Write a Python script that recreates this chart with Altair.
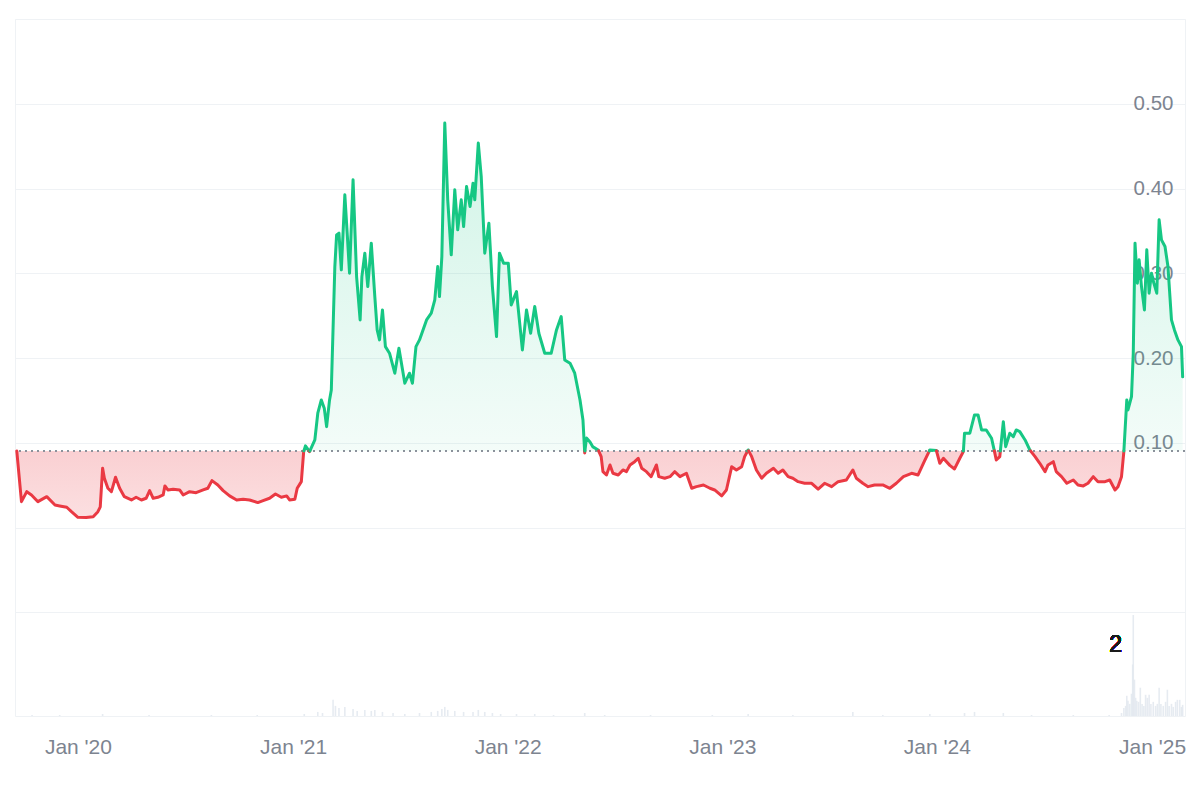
import altair as alt
import pandas as pd
import numpy as np

# ---------------- data ----------------
dates = [
    "2019-09-19", "2019-09-27", "2019-10-06", "2019-10-14", "2019-10-25", "2019-11-09", "2019-11-23",
    "2019-12-01", "2019-12-13", "2019-12-21", "2020-01-01", "2020-01-15", "2020-01-27", "2020-02-04",
    "2020-02-08", "2020-02-12", "2020-02-15", "2020-02-21", "2020-02-27", "2020-03-05", "2020-03-12",
    "2020-03-20", "2020-04-01", "2020-04-09", "2020-04-18", "2020-04-26", "2020-05-02", "2020-05-08",
    "2020-05-16", "2020-05-25", "2020-05-28", "2020-06-02", "2020-06-11", "2020-06-22", "2020-06-28",
    "2020-07-09", "2020-07-20", "2020-08-01", "2020-08-09", "2020-08-16", "2020-08-26", "2020-09-04",
    "2020-09-15", "2020-09-27", "2020-10-08", "2020-10-19", "2020-11-02", "2020-11-11", "2020-11-22",
    "2020-12-02", "2020-12-12", "2020-12-21", "2020-12-26", "2021-01-04", "2021-01-08", "2021-01-15",
    "2021-01-19", "2021-01-22", "2021-01-29", "2021-02-07", "2021-02-12", "2021-02-18", "2021-02-23",
    "2021-02-27", "2021-03-04", "2021-03-07", "2021-03-13", "2021-03-16", "2021-03-20", "2021-03-24",
    "2021-03-30", "2021-04-03", "2021-04-07", "2021-04-13", "2021-04-19", "2021-04-25", "2021-04-28",
    "2021-05-03", "2021-05-08", "2021-05-14", "2021-05-20", "2021-05-24", "2021-05-28", "2021-06-02",
    "2021-06-07", "2021-06-14", "2021-06-23", "2021-06-30", "2021-07-10", "2021-07-18", "2021-07-23",
    "2021-07-29", "2021-08-04", "2021-08-16", "2021-08-24", "2021-08-30", "2021-09-04", "2021-09-07",
    "2021-09-11", "2021-09-16", "2021-09-21", "2021-09-27", "2021-10-03", "2021-10-08", "2021-10-14",
    "2021-10-18", "2021-10-23", "2021-10-29", "2021-11-03", "2021-11-06", "2021-11-12", "2021-11-17",
    "2021-11-23", "2021-11-30", "2021-12-06", "2021-12-13", "2021-12-18", "2021-12-25", "2022-01-02",
    "2022-01-07", "2022-01-16", "2022-01-26", "2022-02-02", "2022-02-09", "2022-02-16", "2022-02-23",
    "2022-03-05", "2022-03-16", "2022-03-25", "2022-04-02", "2022-04-08", "2022-04-17", "2022-04-25",
    "2022-05-04", "2022-05-09", "2022-05-12", "2022-05-15", "2022-05-21", "2022-05-26", "2022-06-04",
    "2022-06-09", "2022-06-12", "2022-06-18", "2022-06-24", "2022-06-29", "2022-07-08", "2022-07-16",
    "2022-07-22", "2022-07-28", "2022-08-05", "2022-08-11", "2022-08-17", "2022-08-25", "2022-09-02",
    "2022-09-11", "2022-09-15", "2022-09-25", "2022-10-04", "2022-10-12", "2022-10-21", "2022-11-01",
    "2022-11-10", "2022-11-18", "2022-11-30", "2022-12-11", "2022-12-19", "2022-12-31", "2023-01-08",
    "2023-01-17", "2023-01-25", "2023-02-03", "2023-02-08", "2023-02-14", "2023-02-20", "2023-02-28",
    "2023-03-09", "2023-03-17", "2023-03-29", "2023-04-06", "2023-04-14", "2023-04-23", "2023-05-01",
    "2023-05-10", "2023-05-21", "2023-06-02", "2023-06-13", "2023-06-24", "2023-07-06", "2023-07-17",
    "2023-07-31", "2023-08-11", "2023-08-17", "2023-08-28", "2023-09-06", "2023-09-17", "2023-10-01",
    "2023-10-13", "2023-10-24", "2023-11-05", "2023-11-19", "2023-11-30", "2023-12-11", "2023-12-20",
    "2023-12-31", "2024-01-06", "2024-01-12", "2024-01-23", "2024-01-31", "2024-02-09", "2024-02-15",
    "2024-02-17", "2024-02-26", "2024-03-05", "2024-03-11", "2024-03-17", "2024-03-25", "2024-04-03",
    "2024-04-08", "2024-04-11", "2024-04-17", "2024-04-23", "2024-04-27", "2024-05-04", "2024-05-10",
    "2024-05-15", "2024-05-21", "2024-05-30", "2024-06-07", "2024-06-16", "2024-06-24", "2024-07-03",
    "2024-07-08", "2024-07-17", "2024-07-22", "2024-07-31", "2024-08-09", "2024-08-20", "2024-08-28",
    "2024-09-06", "2024-09-14", "2024-09-23", "2024-10-01", "2024-10-13", "2024-10-21", "2024-10-30",
    "2024-11-04", "2024-11-10", "2024-11-14", "2024-11-19", "2024-11-21", "2024-11-27", "2024-11-30",
    "2024-12-03", "2024-12-07", "2024-12-10", "2024-12-14", "2024-12-19", "2024-12-23", "2024-12-27",
    "2024-12-31", "2025-01-04", "2025-01-09", "2025-01-13", "2025-01-17", "2025-01-23", "2025-01-28",
    "2025-02-03", "2025-02-08", "2025-02-14", "2025-02-20", "2025-02-22",
]
prices = [
    0.0906, 0.0307, 0.0425, 0.0386, 0.0307, 0.0366, 0.0268,
    0.0257, 0.0241, 0.0189, 0.0123, 0.0119, 0.0130, 0.0189,
    0.0245, 0.0701, 0.0583, 0.0465, 0.0425, 0.0595, 0.0465,
    0.0366, 0.0327, 0.0359, 0.0327, 0.0347, 0.0437, 0.0347,
    0.0359, 0.0386, 0.0493, 0.0445, 0.0454, 0.0445, 0.0386,
    0.0425, 0.0413, 0.0445, 0.0465, 0.0555, 0.0504, 0.0437,
    0.0375, 0.0327, 0.0336, 0.0327, 0.0296, 0.0319, 0.0347,
    0.0398, 0.0359, 0.0375, 0.0327, 0.0336, 0.0465, 0.0543,
    0.0897, 0.0965, 0.0897, 0.1035, 0.1350, 0.1507, 0.1410,
    0.1192, 0.1507, 0.1625, 0.3080, 0.3454, 0.3474, 0.3041,
    0.3926, 0.3474, 0.3002, 0.4103, 0.2962, 0.2451, 0.2962,
    0.3238, 0.2844, 0.3356, 0.2726, 0.2333, 0.2215, 0.2569,
    0.2136, 0.2058, 0.1822, 0.2117, 0.1704, 0.1822, 0.1704,
    0.2136, 0.2215, 0.2451, 0.2530, 0.2687, 0.3080, 0.2726,
    0.3198, 0.4772, 0.3867, 0.3218, 0.3985, 0.3513, 0.3867,
    0.3552, 0.4024, 0.3788, 0.4064, 0.3867, 0.4536, 0.4142,
    0.3238, 0.3592, 0.2844, 0.2254, 0.3238, 0.3120, 0.3120,
    0.2628, 0.2785, 0.2097, 0.2569, 0.2294, 0.2608, 0.2294,
    0.2058, 0.2058, 0.2333, 0.2490, 0.1979, 0.1940, 0.1822,
    0.1507, 0.1271, 0.0882, 0.1059, 0.1012, 0.0953, 0.0917,
    0.0838, 0.0661, 0.0622, 0.0740, 0.0642, 0.0622, 0.0681,
    0.0661, 0.0740, 0.0779, 0.0819, 0.0701, 0.0661, 0.0602,
    0.0740, 0.0602, 0.0583, 0.0602, 0.0661, 0.0602, 0.0642,
    0.0465, 0.0484, 0.0504, 0.0465, 0.0445, 0.0375, 0.0445,
    0.0720, 0.0681, 0.0720, 0.0838, 0.0917, 0.0838, 0.0681,
    0.0583, 0.0642, 0.0701, 0.0642, 0.0681, 0.0602, 0.0583,
    0.0543, 0.0524, 0.0524, 0.0454, 0.0524, 0.0484, 0.0543,
    0.0563, 0.0681, 0.0583, 0.0524, 0.0484, 0.0504, 0.0504,
    0.0465, 0.0524, 0.0602, 0.0642, 0.0622, 0.0788, 0.0917,
    0.0912, 0.0760, 0.0819, 0.0735, 0.0693, 0.0819, 0.0897,
    0.1114, 0.1114, 0.1330, 0.1330, 0.1153, 0.1153, 0.1055,
    0.0897, 0.0799, 0.0838, 0.1251, 0.0956, 0.1114, 0.1074,
    0.1153, 0.1133, 0.1035, 0.0917, 0.0838, 0.0760, 0.0661,
    0.0740, 0.0779, 0.0661, 0.0602, 0.0524, 0.0563, 0.0504,
    0.0493, 0.0524, 0.0602, 0.0543, 0.0543, 0.0563, 0.0445,
    0.0484, 0.0602, 0.0897, 0.1507, 0.1389, 0.1546, 0.2058,
    0.3356, 0.2884, 0.3159, 0.2844, 0.2569, 0.3277, 0.2766,
    0.3002, 0.2884, 0.2766, 0.3631, 0.3395, 0.3316, 0.3080,
    0.2451, 0.2333, 0.2215, 0.2136, 0.1779,
]
BASELINE = 0.0906

vol_dates = [
    "2019-10-15", "2019-12-01", "2020-02-12", "2020-05-01", "2020-08-15", "2020-11-01", "2021-01-20",
    "2021-02-12", "2021-02-20", "2021-03-10", "2021-03-14", "2021-03-20", "2021-03-30", "2021-04-13",
    "2021-04-20", "2021-05-03", "2021-05-14", "2021-05-20", "2021-06-02", "2021-06-20", "2021-07-10",
    "2021-08-04", "2021-08-24", "2021-09-04", "2021-09-11", "2021-09-16", "2021-09-21", "2021-10-03",
    "2021-10-18", "2021-11-03", "2021-11-12", "2021-11-23", "2021-12-06", "2021-12-20", "2022-01-16",
    "2022-02-16", "2022-03-20", "2022-05-12", "2022-06-15", "2022-09-01", "2022-12-15", "2023-02-14",
    "2023-05-01", "2023-08-11", "2023-10-01", "2023-12-20", "2024-02-17", "2024-03-05", "2024-04-23",
    "2024-06-10", "2024-08-20", "2024-10-20", "2024-11-10", "2024-11-14", "2024-11-17", "2024-11-19",
    "2024-11-21", "2024-11-24", "2024-11-27", "2024-11-29", "2024-11-30", "2024-12-02", "2024-12-04",
    "2024-12-06", "2024-12-09", "2024-12-12", "2024-12-15", "2024-12-18", "2024-12-21", "2024-12-24",
    "2024-12-27", "2024-12-30", "2025-01-03", "2025-01-07", "2025-01-10", "2025-01-13", "2025-01-16",
    "2025-01-20", "2025-01-24", "2025-01-27", "2025-01-30", "2025-02-03", "2025-02-06", "2025-02-10",
    "2025-02-13", "2025-02-17", "2025-02-20", "2025-02-22",
]
vol_values = [
    1, 1, 2, 1, 1, 1, 2,
    4, 3, 16, 10, 8, 9, 7,
    5, 6, 5, 6, 4, 3, 2,
    3, 4, 5, 7, 9, 6, 5,
    4, 4, 6, 4, 3, 2, 2,
    2, 1, 3, 1, 1, 1, 2,
    1, 4, 1, 2, 3, 4, 3,
    1, 1, 1, 3, 8, 10, 20,
    15, 12, 22, 51, 100, 36, 18,
    15, 14, 28, 12, 10, 21, 18,
    21, 12, 14, 10, 12, 28, 12,
    10, 14, 26, 10, 12, 9, 14,
    16, 16, 9, 11,
]

x_tick_dates = ["2020-01-01", "2021-01-01", "2022-01-01", "2023-01-01", "2024-01-01", "2025-01-01"]
y_grid_values = [-0.1, 0.0, 0.1, 0.2, 0.3, 0.4, 0.5, 0.6]
x_domain = ["2019-09-16T00:00:00", "2025-02-26T00:00:00"]
y_domain = [-0.2221, 0.6]
vol_domain = [0, 690]

annotation_text = "2"
annotation_value = -0.1385

GREEN = "#16c784"
RED = "#ea3943"
FONT = "Liberation Sans"
LABEL_GRAY = "#7d8490"

# ---------------- prepare split series (crossings at baseline) ----------------
t = pd.to_datetime(pd.Series(dates)).astype("int64").to_numpy().astype(float)
p = np.array(prices, dtype=float)
pts_t, pts_p = [], []
for i in range(len(p)):
    pts_t.append(t[i]); pts_p.append(p[i])
    if i < len(p) - 1 and (p[i] - BASELINE) * (p[i + 1] - BASELINE) < 0:
        f = (BASELINE - p[i]) / (p[i + 1] - p[i])
        pts_t.append(t[i] + f * (t[i + 1] - t[i])); pts_p.append(BASELINE)

pts_dates = pd.to_datetime(np.array(pts_t).astype("int64"))
area_df = pd.DataFrame({
    "date": pts_dates,
    "up": np.maximum(pts_p, BASELINE),
    "dn": np.minimum(pts_p, BASELINE),
    "base": BASELINE,
})

rows = []
seg = -1
prev_side = None
for i in range(len(pts_p) - 1):
    side = "up" if (pts_p[i] + pts_p[i + 1]) / 2 >= BASELINE else "down"
    if side != prev_side:
        seg += 1
        rows.append({"date": pts_dates[i], "price": pts_p[i], "seg": seg, "side": side})
        prev_side = side
    rows.append({"date": pts_dates[i + 1], "price": pts_p[i + 1], "seg": seg, "side": side})
line_df = pd.DataFrame(rows)

vol_df = pd.DataFrame({"date": pd.to_datetime(vol_dates), "vol": vol_values})

xscale = alt.Scale(domain=x_domain, padding=0, nice=False)
yscale = alt.Scale(domain=y_domain, nice=False, zero=False)

x_axis = alt.Axis(
    values=[pd.Timestamp(d).isoformat() for d in x_tick_dates],
    labelExpr="timeFormat(datum.value, \"%b '%y\")",
    grid=False, ticks=False, domain=False,
    labelFont=FONT, labelFontSize=21, labelColor=LABEL_GRAY,
    labelPadding=20, labelFlush=False,
)

vol = alt.Chart(vol_df).mark_bar(width=1.6, color="#e2e8ee", opacity=0.85).encode(
    x=alt.X("date:T", scale=xscale, title=None, axis=x_axis),
    y=alt.Y("vol:Q", scale=alt.Scale(domain=vol_domain, nice=False), axis=None),
)

area_up = alt.Chart(area_df).mark_area(
    color=alt.Gradient(
        gradient="linear", x1=0, x2=0, y1=0, y2=1,
        stops=[alt.GradientStop(color="rgba(22,199,132,0.20)", offset=0),
               alt.GradientStop(color="rgba(22,199,132,0.05)", offset=1)],
    )
).encode(
    x=alt.X("date:T", scale=xscale, title=None, axis=x_axis),
    y=alt.Y("up:Q", scale=yscale, title=None,
            axis=alt.Axis(orient="right", values=y_grid_values,
                          labelExpr="datum.value > 0.05 && datum.value < 0.55 ? format(datum.value, '.2f') : ''",
                          ticks=False, domain=False, grid=True, gridColor="#eff2f5", gridWidth=1,
                          labelFont=FONT, labelFontSize=20.5, labelColor=LABEL_GRAY,
                          labelAlign="right", labelPadding=-12, labelBaseline="middle", zindex=0)),
    y2="base:Q",
)

area_dn = alt.Chart(area_df).mark_area(
    color=alt.Gradient(
        gradient="linear", x1=0, x2=0, y1=0, y2=1,
        stops=[alt.GradientStop(color="rgba(234,57,67,0.24)", offset=0),
               alt.GradientStop(color="rgba(234,57,67,0.16)", offset=1)],
    )
).encode(x="date:T", y="dn:Q", y2="base:Q")

base_rule = alt.Chart(area_df).mark_rule(color="#8b919b", strokeDash=[2, 4], strokeWidth=1.2).encode(
    y=alt.datum(BASELINE)
)

lines = alt.Chart(line_df).mark_line(strokeWidth=3, strokeJoin="round", strokeCap="round").encode(
    x="date:T",
    y="price:Q",
    detail="seg:N",
    color=alt.Color("side:N", scale=alt.Scale(domain=["up", "down"], range=[GREEN, RED]), legend=None),
)

label = alt.Chart(area_df).mark_text(font=FONT, fontSize=23, color="#1a1a1a", align="center",
                                      baseline="middle").encode(
    x=alt.datum(alt.DateTime(year=2024, month=10, date=31)),
    y=alt.datum(annotation_value),
    text=alt.value(annotation_text),
)

price_layer = alt.layer(area_up, area_dn, base_rule, lines, label)

chart = alt.layer(vol, price_layer).resolve_scale(y="independent").properties(
    width=1170, height=697,
    autosize=alt.AutoSizeParams(type="none"),
    padding={"left": 15, "top": 19, "right": 15, "bottom": 84},
    background="white",
).configure_view(stroke="#eff2f5", strokeWidth=1)

chart.save("out.html", embed_options={"renderer": "svg", "actions": False})
